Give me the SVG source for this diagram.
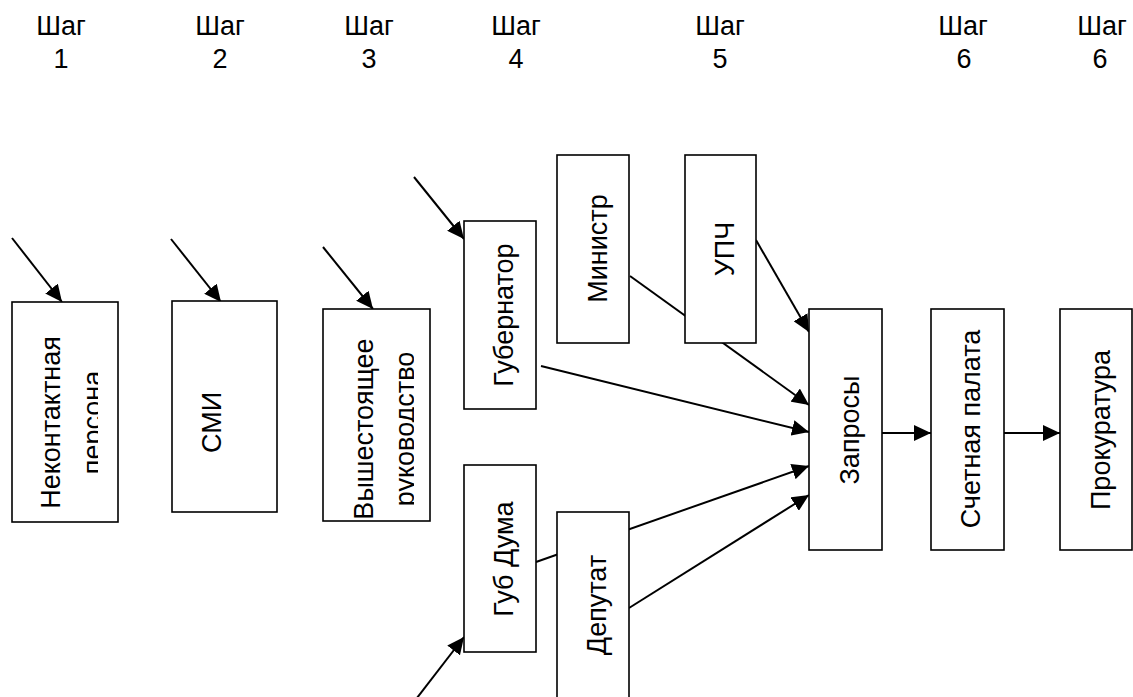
<svg xmlns="http://www.w3.org/2000/svg" width="1133" height="697" viewBox="0 0 1133 697">
<style>
.box{fill:#fff;stroke:#000;stroke-width:1.6}
.lbl{font-family:"Liberation Sans",Arial,sans-serif;font-size:27px;fill:#000;text-anchor:middle}
.hdr{font-family:"Liberation Sans",Arial,sans-serif;font-size:27px;fill:#000;text-anchor:middle}
.arr{stroke:#000;stroke-width:2;fill:none;marker-end:url(#ah)}
</style>
<defs>
<marker id="ah" markerUnits="userSpaceOnUse" markerWidth="20" markerHeight="16" refX="17" refY="8" orient="auto">
<path d="M0,0 L17,8 L0,16 Z" fill="#000"/>
</marker>
<clipPath id="c1"><rect x="12" y="302" width="86" height="220"/></clipPath>
<clipPath id="c3"><rect x="323" y="309" width="91" height="212"/></clipPath>
</defs>
<rect width="1133" height="697" fill="#fff"/>
<g id="headers">
<text class="hdr" x="61" y="35">Шаг</text><text class="hdr" x="61" y="68">1</text>
<text class="hdr" x="220" y="35">Шаг</text><text class="hdr" x="220" y="68">2</text>
<text class="hdr" x="369" y="35">Шаг</text><text class="hdr" x="369" y="68">3</text>
<text class="hdr" x="516" y="35">Шаг</text><text class="hdr" x="516" y="68">4</text>
<text class="hdr" x="720" y="35">Шаг</text><text class="hdr" x="720" y="68">5</text>
<text class="hdr" x="963" y="35">Шаг</text><text class="hdr" x="964" y="68">6</text>
<text class="hdr" x="1102" y="35">Шаг</text><text class="hdr" x="1100" y="68">6</text>
</g>
<g id="connectors">
<line class="arr" x1="12" y1="238" x2="62" y2="302"/>
<line class="arr" x1="171" y1="239" x2="221" y2="302"/>
<line class="arr" x1="323" y1="247" x2="373" y2="309"/>
<line class="arr" x1="414" y1="177" x2="464" y2="239"/>
<line class="arr" x1="410" y1="707" x2="464" y2="637"/>
<line class="arr" x1="541" y1="366" x2="809" y2="432"/>
<line class="arr" x1="630" y1="276" x2="809" y2="405"/>
<line class="arr" x1="756" y1="240" x2="809" y2="332"/>
<line class="arr" x1="536" y1="562" x2="809" y2="466"/>
<line class="arr" x1="629" y1="608" x2="809" y2="495"/>
<line class="arr" x1="882" y1="433" x2="931" y2="433"/>
<line class="arr" x1="1004" y1="433" x2="1060" y2="433"/>
</g>
<g id="n-nekontakt">
<rect class="box" x="12" y="302" width="106" height="220"/>
<g clip-path="url(#c1)">
<text class="lbl" transform="translate(60,422.5) rotate(-90)">Неконтактная</text>
<text class="lbl" transform="translate(102,422.5) rotate(-90)">персона</text>
</g>
</g>
<g id="n-smi">
<rect class="box" x="172" y="301" width="105" height="211"/>
<text class="lbl" transform="translate(220.5,422.5) rotate(-90)">СМИ</text>
</g>
<g id="n-vyshest">
<rect class="box" x="323" y="309" width="107" height="212"/>
<g clip-path="url(#c3)">
<text class="lbl" transform="translate(372.5,429) rotate(-90)">Вышестоящее</text>
<text class="lbl" transform="translate(414,429) rotate(-90)">руководство</text>
</g>
</g>
<g id="n-gubernator">
<rect class="box" x="464" y="221" width="72" height="188"/>
<text class="lbl" transform="translate(513,315) rotate(-90)">Губернатор</text>
</g>
<g id="n-gubduma">
<rect class="box" x="464" y="465" width="72" height="187"/>
<text class="lbl" transform="translate(513,559) rotate(-90)">Губ Дума</text>
</g>
<g id="n-deputat">
<rect class="box" x="557" y="512" width="72" height="200"/>
<text class="lbl" transform="translate(606,605) rotate(-90)">Депутат</text>
</g>
<g id="n-ministr">
<rect class="box" x="557" y="155" width="72" height="188"/>
<text class="lbl" transform="translate(606.5,248.5) rotate(-90)">Министр</text>
</g>
<g id="n-upch">
<rect class="box" x="685" y="155" width="71" height="188"/>
<text class="lbl" transform="translate(733.5,249) rotate(-90)">УПЧ</text>
</g>
<g id="n-zaprosy">
<rect class="box" x="809" y="309" width="73" height="241"/>
<text class="lbl" transform="translate(859,430) rotate(-90)">Запросы</text>
</g>
<g id="n-schetnaya">
<rect class="box" x="931" y="309" width="73" height="241"/>
<text class="lbl" transform="translate(979.5,429) rotate(-90)">Счетная палата</text>
</g>
<g id="n-prokuratura">
<rect class="box" x="1060" y="309" width="72" height="241"/>
<text class="lbl" transform="translate(1109.5,430) rotate(-90)">Прокуратура</text>
</g>
</svg>
